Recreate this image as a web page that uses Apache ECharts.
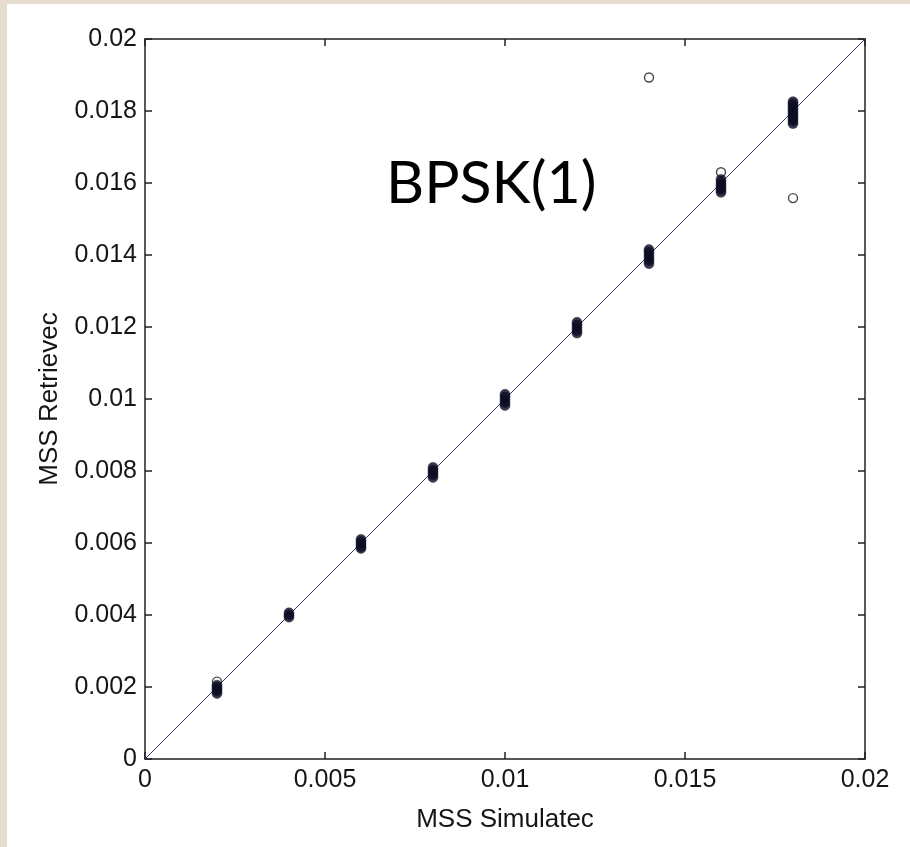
<!DOCTYPE html>
<html>
<head>
<meta charset="utf-8">
<script src="https://cdn.jsdelivr.net/npm/echarts@6/dist/echarts.min.js"></script>
<style>
  html, body { margin: 0; padding: 0; background: #e6ddd0; width: 910px; height: 847px; overflow: hidden; }
  #chart { position: absolute; left: 7px; top: 4px; width: 903px; height: 843px; background: #ffffff; }
</style>
</head>
<body>
<div id="chart"></div>
<script>
// Simulated mean-square slope for each test case
const simulated = [0.002, 0.004, 0.006, 0.008, 0.010, 0.012, 0.014, 0.016, 0.018];

// Retrieved mean-square slope values for each simulated case
const retrieved = [
  [0.00182, 0.00188, 0.00194, 0.00200, 0.00205],
  [0.00394, 0.00400, 0.00406],
  [0.00585, 0.00590, 0.00597, 0.00604, 0.00610],
  [0.00782, 0.00789, 0.00796, 0.00803, 0.00810],
  [0.00982, 0.00990, 0.00998, 0.01006, 0.01013],
  [0.01183, 0.01190, 0.01198, 0.01206, 0.01213],
  [0.01376, 0.01384, 0.01392, 0.01400, 0.01408, 0.01415],
  [0.01574, 0.01581, 0.01588, 0.01595, 0.01602, 0.01610],
  [0.01765, 0.01772, 0.01779, 0.01786, 0.01793, 0.01800, 0.01807, 0.01814, 0.01820, 0.01826]
];

// Isolated retrievals away from the main groups
const outlierSimulated = [0.002, 0.014, 0.016, 0.018];
const outlierRetrieved = [0.00215, 0.01893, 0.01630, 0.01558];

// 1:1 reference line end points
const identityLine = [0, 0.02];

const xTicks = { min: 0, max: 0.02, interval: 0.005 };
const yTicks = { min: 0, max: 0.02, interval: 0.002 };

const titleText = 'BPSK(1)';
const xName = 'MSS Simulatec';
const yName = 'MSS Retrievec';

const clusterPoints = [];
simulated.forEach((x, i) => retrieved[i].forEach(y => clusterPoints.push([x, y])));
const outlierPoints = outlierSimulated.map((x, i) => [x, outlierRetrieved[i]]);
const linePoints = identityLine.map(v => [v, v]);

const fmt = v => String(parseFloat(v.toFixed(4)));
const labelFont = { fontFamily: 'Liberation Sans, Arial, sans-serif', fontSize: 25, color: '#151515' };
const nameFont = { fontFamily: 'Liberation Sans, Arial, sans-serif', fontSize: 26, color: '#151515' };
const axisLineStyle = { color: '#222222', width: 1.5 };

const chart = echarts.init(document.getElementById('chart'), null, { renderer: 'canvas' });
chart.setOption({
  animation: false,
  backgroundColor: '#ffffff',
  grid: { left: 138, top: 35, right: 45, bottom: 88, containLabel: false },
  xAxis: [
    {
      type: 'value', position: 'bottom', min: xTicks.min, max: xTicks.max, interval: xTicks.interval,
      name: xName, nameLocation: 'middle', nameGap: 48,
      nameTextStyle: nameFont,
      axisLine: { show: true, onZero: false, lineStyle: axisLineStyle },
      axisTick: { show: true, inside: true, length: 7, lineStyle: axisLineStyle },
      axisLabel: Object.assign({ margin: 9, formatter: fmt }, labelFont),
      splitLine: { show: false }
    },
    {
      type: 'value', position: 'top', min: xTicks.min, max: xTicks.max, interval: xTicks.interval,
      axisLine: { show: true, onZero: false, lineStyle: axisLineStyle },
      axisTick: { show: true, inside: true, length: 7, lineStyle: axisLineStyle },
      axisLabel: { show: false },
      splitLine: { show: false }
    }
  ],
  yAxis: [
    {
      type: 'value', position: 'left', min: yTicks.min, max: yTicks.max, interval: yTicks.interval,
      name: yName, nameLocation: 'middle', nameGap: 82, nameRotate: 90,
      nameTextStyle: nameFont,
      axisLine: { show: true, onZero: false, lineStyle: axisLineStyle },
      axisTick: { show: true, inside: true, length: 7, lineStyle: axisLineStyle },
      axisLabel: Object.assign({ margin: 8, formatter: fmt }, labelFont),
      splitLine: { show: false }
    },
    {
      type: 'value', position: 'right', min: yTicks.min, max: yTicks.max, interval: yTicks.interval,
      axisLine: { show: true, onZero: false, lineStyle: axisLineStyle },
      axisTick: { show: true, inside: true, length: 7, lineStyle: axisLineStyle },
      axisLabel: { show: false },
      splitLine: { show: false }
    }
  ],
  graphic: [{
    type: 'text', left: 379, top: 150, silent: true,
    style: { text: titleText, font: '59px Lato, "Open Sans", sans-serif', fill: '#000000' }
  }],
  series: [
    {
      type: 'line', data: linePoints, showSymbol: false, symbol: 'none',
      lineStyle: { color: '#34346e', width: 1 }, z: 1
    },
    {
      type: 'scatter', data: clusterPoints, symbol: 'circle', symbolSize: 10,
      itemStyle: { color: '#0c0c26', borderColor: '#0c0c26', borderWidth: 0.5 }, z: 3
    },
    {
      type: 'scatter', data: outlierPoints, symbol: 'circle', symbolSize: 9,
      itemStyle: { color: 'rgba(0,0,0,0)', borderColor: '#1a1a1a', borderWidth: 1.4 }, z: 2
    }
  ]
});
</script>
</body>
</html>
